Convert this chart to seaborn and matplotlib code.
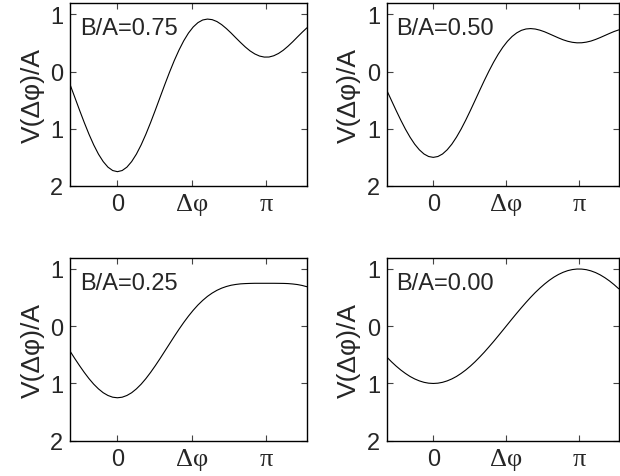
import matplotlib
matplotlib.use('Agg')
import matplotlib.pyplot as plt
import seaborn as sns
import numpy as np

# phase difference samples (rad), read along the x axis
dphi = [-1.0, -0.9, -0.8, -0.7, -0.6, -0.5, -0.4, -0.3, -0.2, -0.1,
        0.0, 0.1, 0.2, 0.3, 0.4, 0.5, 0.6, 0.7, 0.8, 0.9,
        1.0, 1.1, 1.2, 1.3, 1.4, 1.5, 1.6, 1.7, 1.8, 1.9,
        2.0, 2.1, 2.2, 2.3, 2.4, 2.5, 2.6, 2.7, 2.8, 2.9,
        3.0, 3.1, 3.2, 3.3, 3.4, 3.5, 3.6, 3.7, 3.8, 3.9, 4.0]

# V(dphi)/A for each B/A panel
v_075 = [-0.228, -0.451, -0.675, -0.892, -1.097, -1.283, -1.444, -1.574, -1.671, -1.730,
         -1.750, -1.730, -1.671, -1.574, -1.444, -1.283, -1.097, -0.892, -0.675, -0.451,
         -0.228, -0.012, 0.191, 0.375, 0.537, 0.672, 0.778, 0.854, 0.900, 0.916,
         0.906, 0.873, 0.819, 0.750, 0.672, 0.588, 0.506, 0.428, 0.360, 0.307,
         0.270, 0.252, 0.253, 0.275, 0.315, 0.371, 0.441, 0.519, 0.603, 0.685, 0.763]
v_050 = [-0.332, -0.508, -0.682, -0.850, -1.007, -1.148, -1.270, -1.368, -1.441, -1.485,
         -1.500, -1.485, -1.441, -1.368, -1.270, -1.148, -1.007, -0.850, -0.682, -0.508,
         -0.332, -0.159, 0.006, 0.161, 0.301, 0.424, 0.528, 0.612, 0.675, 0.719,
         0.743, 0.750, 0.742, 0.722, 0.694, 0.659, 0.623, 0.587, 0.554, 0.528,
         0.510, 0.501, 0.502, 0.513, 0.532, 0.560, 0.593, 0.629, 0.665, 0.699, 0.727]
v_025 = [-0.436, -0.565, -0.689, -0.807, -0.916, -1.013, -1.095, -1.162, -1.210, -1.240,
         -1.250, -1.240, -1.210, -1.162, -1.095, -1.013, -0.916, -0.807, -0.689, -0.565,
         -0.436, -0.307, -0.178, -0.053, 0.066, 0.177, 0.279, 0.371, 0.451, 0.521,
         0.579, 0.627, 0.665, 0.694, 0.716, 0.730, 0.740, 0.745, 0.748, 0.750,
         0.750, 0.750, 0.750, 0.750, 0.749, 0.748, 0.745, 0.738, 0.728, 0.712, 0.690]
v_000 = [-0.540, -0.622, -0.697, -0.765, -0.825, -0.878, -0.921, -0.955, -0.980, -0.995,
         -1.000, -0.995, -0.980, -0.955, -0.921, -0.878, -0.825, -0.765, -0.697, -0.622,
         -0.540, -0.454, -0.362, -0.268, -0.170, -0.071, 0.029, 0.129, 0.227, 0.323,
         0.416, 0.505, 0.589, 0.666, 0.737, 0.801, 0.857, 0.904, 0.942, 0.971,
         0.990, 0.999, 0.998, 0.988, 0.967, 0.937, 0.897, 0.848, 0.791, 0.726, 0.654]

panel_labels = ['B/A=0.75', 'B/A=0.50', 'B/A=0.25', 'B/A=0.00']
panel_values = [v_075, v_050, v_025, v_000]

x_ticks = [0, np.pi / 2, np.pi]
x_ticklabels = ['0', 'Δφ', 'π']
y_ticks = [1, 0, -1, -2]
y_ticklabels = ['1', '0', '1', '2']   # minus signs are missing in the original

sns.set_style('ticks')
plt.rcParams['font.family'] = ['Liberation Sans', 'DejaVu Sans']
plt.rcParams['xtick.direction'] = 'in'
plt.rcParams['ytick.direction'] = 'in'

fig = plt.figure(figsize=(6.2, 4.77), dpi=100)

# axes rectangles in figure fractions (left, bottom, width, height)
rects = [[0.113, 0.608, 0.382, 0.384],
         [0.624, 0.608, 0.374, 0.384],
         [0.113, 0.074, 0.382, 0.384],
         [0.624, 0.074, 0.374, 0.384]]

for rect, label, vals in zip(rects, panel_labels, panel_values):
    ax = fig.add_axes(rect)
    sns.lineplot(x=dphi, y=vals, ax=ax, color='black', lw=0.8)
    ax.set_xlim(-1.0, 4.0)
    ax.set_ylim(-2.0, 1.2)

    ax.set_xticks(x_ticks)
    ax.set_xticklabels(x_ticklabels)
    ax.set_yticks(y_ticks)
    ax.set_yticklabels(y_ticklabels)
    ax.tick_params(axis='both', labelsize=17, length=4, width=0.8,
                   top=True, right=True, color='#444444', pad=5)
    # the greek tick labels are set in a serif face in the original
    for t in ax.get_xticklabels()[1:]:
        t.set_fontfamily(['Liberation Serif', 'DejaVu Serif'])
        t.set_fontsize(19)

    for s in ax.spines.values():
        s.set_visible(True)
        s.set_linewidth(1.0)
        s.set_color('black')

    ax.set_ylabel('V(Δφ)/A', fontsize=19, labelpad=4)
    ax.text(0.042, 0.83, label, transform=ax.transAxes, fontsize=17,
            ha='left', va='baseline')

fig.savefig('out.png', dpi=100)
